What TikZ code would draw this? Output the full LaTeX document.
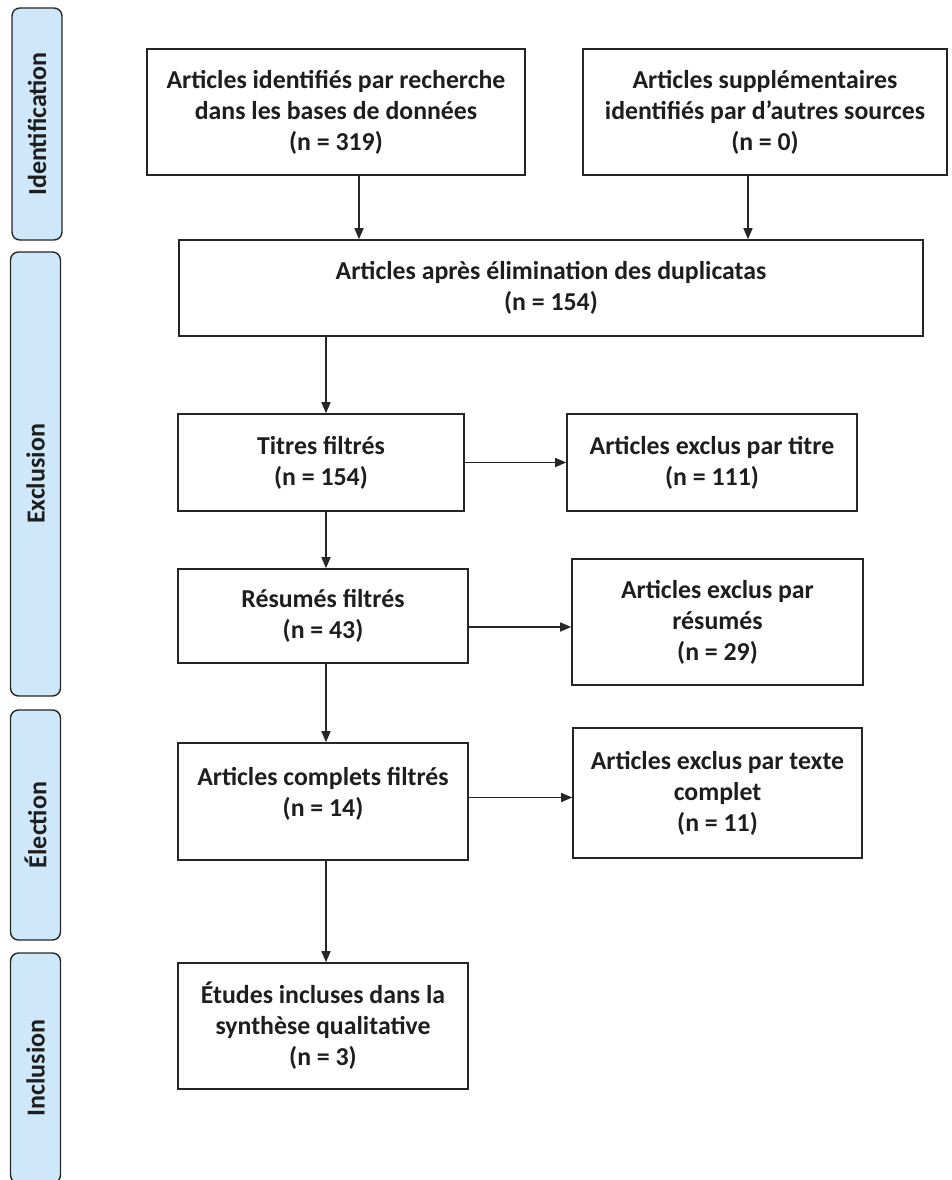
\documentclass[tikz,border=0pt]{standalone}
\usepackage{fontspec}
\setmainfont{Carlito}
\usepackage{xcolor}
\usepackage{tikz}
\usetikzlibrary{arrows.meta, positioning, calc}
\definecolor{phaseblue}{RGB}{206, 232, 250}
\definecolor{darkline}{RGB}{38, 38, 38}
\definecolor{inktext}{RGB}{30, 30, 30}

\begin{document}
\begin{tikzpicture}[x=1pt, y=-1pt,
    box/.style={rectangle, draw=darkline, line width=1.6pt, fill=white,
                align=center, inner sep=0pt, text=inktext,
                font=\fontsize{25.8}{31}\selectfont\bfseries},
    phase/.style={rectangle, draw=darkline, fill=phaseblue, line width=1.4pt,
                  rounded corners=8pt, minimum height=50pt, inner sep=0pt,
                  rotate=90, text=inktext,
                  font=\fontsize{26}{30}\selectfont\bfseries},
    arr/.style={-{Triangle[length=11pt, width=9pt]}, line width=1.5pt, darkline}
]
\clip (0,0) rectangle (952,1180);

%% ── PHASE BARS ──────────────────────────────────────────────────────────────
\node[phase, minimum width=232pt] (identif) at (37, 124)    {Identification};
\node[phase, minimum width=444pt] (exclus)  at (35.5, 474)  {Exclusion};
\node[phase, minimum width=230pt] (elect)   at (35.5, 825)  {Élection};
\node[phase, minimum width=230pt] (inclus)  at (35.5, 1068) {Inclusion};

%% ── IDENTIFICATION ──────────────────────────────────────────────────────────
\node[box, minimum width=378pt, minimum height=126pt] (dbsearch) at (336, 112)
     {Articles identifiés par recherche\\dans les bases de données\\(n = 319)};
\node[box, minimum width=364pt, minimum height=126pt] (othersrc) at (765, 112)
     {Articles supplémentaires\\identifiés par d’autres sources\\(n = 0)};
\node[box, minimum width=744pt, minimum height=96pt] (dedup) at (551, 288)
     {Articles après élimination des duplicatas\\(n = 154)};

%% ── SCREENING ───────────────────────────────────────────────────────────────
\node[box, minimum width=286pt, minimum height=97pt]  (titles)   at (321, 462.5)
     {Titres filtrés\\(n = 154)};
\node[box, minimum width=290pt, minimum height=97pt]  (extitles) at (712, 462.5)
     {Articles exclus par titre\\(n = 111)};
\node[box, minimum width=290pt, minimum height=94pt]  (abstr)    at (323, 616)
     {Résumés filtrés\\(n = 43)};
\node[box, minimum width=291pt, minimum height=126pt] (exabstr)  at (717.5, 622)
     {Articles exclus par\\résumés\\(n = 29)};

%% ── ELIGIBILITY / INCLUSION ─────────────────────────────────────────────────
\node[box, minimum width=290pt, minimum height=117pt, text depth=20pt]
     (fulltext) at (323, 801.5) {Articles complets filtrés\\(n = 14)};
\node[box, minimum width=289pt, minimum height=130pt] (exfull)   at (717.5, 793)
     {Articles exclus par texte\\complet\\(n = 11)};
\node[box, minimum width=290pt, minimum height=126pt] (studies)  at (323, 1026)
     {Études incluses dans la\\synthèse qualitative\\(n = 3)};

%% ── Connectors ──────────────────────────────────────────────────────────────
% sources into deduplication
\draw[arr] ([xshift=23pt]dbsearch.south)  -- ([xshift=23pt]dbsearch.south |- dedup.north);
\draw[arr] ([xshift=-17pt]othersrc.south) -- ([xshift=-17pt]othersrc.south |- dedup.north);

% main column
\draw[arr] (dedup.south -| titles.north) ++(5,0) -- ([xshift=5pt]titles.north);
\draw[arr] ([xshift=5pt]titles.south)  -- ([xshift=3pt]abstr.north);
\draw[arr] ([xshift=3pt]abstr.south)   -- ([xshift=3pt]fulltext.north);
\draw[arr] ([xshift=3pt]fulltext.south) -- ([xshift=3pt]studies.north);

% exclusions
\draw[arr] (titles.east) -- (extitles.west);
\draw[arr] ([yshift=-11pt]abstr.east) -- ([yshift=-11pt]abstr.east -| exabstr.west);
\draw[arr] ([yshift=4pt]fulltext.east) -- ([yshift=4pt]fulltext.east -| exfull.west);

\end{tikzpicture}
\end{document}
